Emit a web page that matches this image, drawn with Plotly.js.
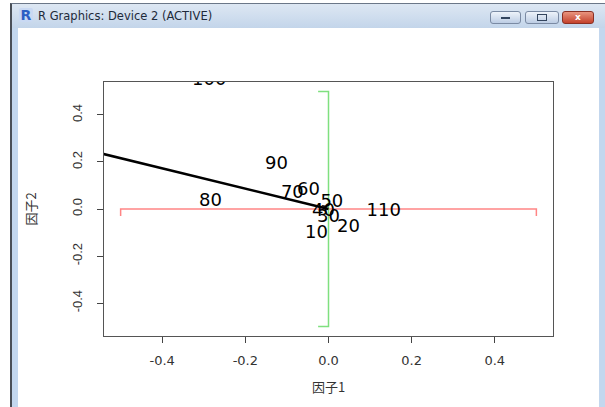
<!DOCTYPE html>
<html>
<head>
<meta charset="utf-8">
<script src="https://cdn.plot.ly/plotly-3.0.1.min.js"></script>
<style>
  html, body { margin:0; padding:0; background:#fff; width:605px; height:407px; overflow:hidden; }
  #win { position:absolute; left:10px; top:3px; width:600px; height:410px; background:#c3d7ee; border-left:2px solid #4a4f57; border-top:1px solid #6b7788; }
  #titlebar { position:absolute; left:0; top:0; right:0; height:24px; background:linear-gradient(#dde7f3,#c3d5ea); }
  #client { position:absolute; left:6px; top:24px; width:581px; height:390px; background:#fff; }
  #ttl { position:absolute; left:26px; top:5px; font-family:"DejaVu Sans", sans-serif; font-size:11.5px; color:#1e2a3a; }
  #ricon { position:absolute; left:7px; top:4px; width:14px; height:14px; font-family:"DejaVu Sans", sans-serif; font-weight:bold; font-size:14px; color:#2c5fc4; line-height:15px; text-align:center; background:#c9d9f3; border-radius:2px; }
  .btn { position:absolute; top:7px; height:11px; border:1px solid #7a8aa3; border-radius:3px; background:linear-gradient(#eef3fa,#bccde4); }
  #bmin { left:478px; width:29px; }
  #bmax { left:513px; width:32px; }
  #bcls { left:550px; width:30px; background:linear-gradient(#e9957f,#c4412c); border-color:#8a3024; color:#fff; font-family:"DejaVu Sans"; font-size:9px; font-weight:bold; text-align:center; line-height:11px; }
  #bmin:after { content:""; position:absolute; left:10px; top:5px; width:9px; height:2px; background:#33455e; }
  #bmax:after { content:""; position:absolute; left:11px; top:2px; width:8px; height:5px; border:1px solid #33455e; }
  #plot { position:absolute; left:0; top:0; width:605px; height:407px; }
</style>
</head>
<body>
<div id="win">
  <div id="titlebar">
    <div id="ricon">R</div>
    <div id="ttl">R Graphics: Device 2 (ACTIVE)</div>
    <div class="btn" id="bmin"></div>
    <div class="btn" id="bmax"></div>
    <div class="btn" id="bcls">x</div>
  </div>
  <div id="client"></div>
</div>
<div id="plot"></div>
<script>
// Point labels and their positions (factor scores)
const labels  = ["10","20","30","40","50","60","70","80","90","100","110"];
const factor1 = [-0.029, 0.048, 0.0, -0.012, 0.008, -0.048, -0.087, -0.284, -0.125, -0.287, 0.133];
const factor2 = [-0.104, -0.078, -0.036, -0.010, 0.026, 0.080, 0.066, 0.032, 0.190, 0.545, -0.010];

// Reference bars (red: factor 1 range, green: factor 2 range)
const redX   = [-0.5, -0.5, 0.5, 0.5];
const redY   = [-0.03, 0, 0, -0.03];
const greenX = [-0.025, 0, 0, -0.025];
const greenY = [0.5, 0.5, -0.5, -0.5];

// Loading vector (black line from origin)
const vecX = [0, -0.62];
const vecY = [0, 0.268];

const tickVals = [-0.4, -0.2, 0, 0.2, 0.4];
const tickText = ["-0.4", "-0.2", "0.0", "0.2", "0.4"];

const traces = [
  { x: redX, y: redY, mode: "lines", line: { color: "#ff8585", width: 1.5 }, hoverinfo: "skip" },
  { x: greenX, y: greenY, mode: "lines", line: { color: "#7fe07f", width: 1.5 }, hoverinfo: "skip" },
  { x: vecX, y: vecY, mode: "lines", line: { color: "#000", width: 2.5 }, hoverinfo: "skip" },
  { x: factor1, y: factor2, mode: "text", text: labels, cliponaxis: true,
    textfont: { family: "DejaVu Sans", size: 18, color: "#000" }, hoverinfo: "skip" }
];

const axisCommon = {
  range: [-0.54, 0.54], tickmode: "array", tickvals: tickVals, ticktext: tickText,
  ticks: "outside", ticklen: 6, tickcolor: "#444", tickwidth: 1,
  showline: true, mirror: true, linecolor: "#555", linewidth: 1.2,
  showgrid: false, zeroline: false, fixedrange: true
};

const layout = {
  width: 605, height: 407,
  margin: { l: 104, r: 52, t: 82, b: 71 },
  paper_bgcolor: "rgba(0,0,0,0)", plot_bgcolor: "rgba(0,0,0,0)",
  showlegend: false,
  xaxis: Object.assign({}, axisCommon, {
    tickfont: { family: "DejaVu Sans", size: 13, color: "#333" },
    ticklabelstandoff: 6,
    title: { text: "因子1", font: { family: "Noto Sans CJK SC", size: 13, color: "#333" }, standoff: 16 }
  }),
  yaxis: Object.assign({}, axisCommon, {
    tickangle: -90,
    tickfont: { family: "Liberation Sans", size: 13, color: "#333" },
    ticklabelstandoff: 10,
    title: { text: "因子2", font: { family: "Noto Sans CJK SC", size: 13, color: "#333" }, standoff: 30 }
  })
};

Plotly.newPlot("plot", traces, layout, { staticPlot: true, displayModeBar: false });
</script>
</body>
</html>
